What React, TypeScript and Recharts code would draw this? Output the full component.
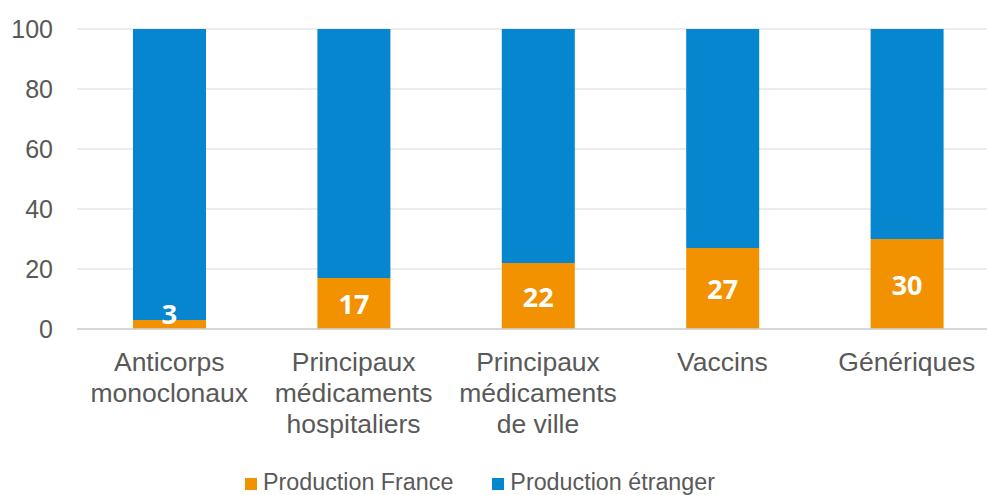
import React from "react";
import {
  BarChart,
  Bar,
  XAxis,
  YAxis,
  CartesianGrid,
  Legend,
  LabelList,
} from "recharts";

const categories = [
  "Anticorps\nmonoclonaux",
  "Principaux\nmédicaments\nhospitaliers",
  "Principaux\nmédicaments\nde ville",
  "Vaccins",
  "Génériques",
];
const franceValues = [3, 17, 22, 27, 30];
const foreignValues = [97, 83, 78, 73, 70];
const yTicks = [0, 20, 40, 60, 80, 100];

const ORANGE = "#F39200";
const BLUE = "#0586CE";
const TEXT = "#595959";
const FONT = "'Liberation Sans', Arial, sans-serif";

const data = categories.map((name, i) => ({
  name,
  france: franceValues[i],
  foreign: foreignValues[i],
}));

const CategoryTick = (props: any) => {
  const { x, y, payload } = props;
  const lines = String(payload.value).split("\n");
  return (
    <text
      textAnchor="middle"
      fill={TEXT}
      fontSize={26.5}
      fontFamily={FONT}
    >
      {lines.map((line: string, i: number) => (
        <tspan key={i} x={x} y={y + 42 + i * 31}>
          {line}
        </tspan>
      ))}
    </text>
  );
};

const CenterLabel = (props: any) => {
  const { x, y, width, height, value } = props;
  const bottom = y + height;
  const cy = Math.min(y + height / 2, bottom - 16);
  return (
    <text
      x={x + width / 2}
      y={cy}
      textAnchor="middle"
      dominantBaseline="central"
      fill="#ffffff"
      fontSize={27}
      fontWeight={700}
      fontFamily="'Open Sans', sans-serif"
    >
      {value}
    </text>
  );
};

const renderLegend = () => {
  const items = [
    { label: "Production France", color: ORANGE },
    { label: "Production étranger", color: BLUE },
  ];
  return (
    <div
      style={{
        display: "flex",
        alignItems: "center",
        height: 30,
        lineHeight: "30px",
        fontFamily: FONT,
        fontSize: 23.3,
        color: TEXT,
        whiteSpace: "nowrap",
      }}
    >
      {items.map((item, i) => (
        <div
          key={item.label}
          style={{
            display: "flex",
            alignItems: "center",
            marginRight: i === 0 ? 39 : 0,
          }}
        >
          <span
            style={{
              display: "inline-block",
              width: 12,
              height: 12,
              background: item.color,
              marginRight: 6,
              marginTop: 4,
            }}
          />
          <span>{item.label}</span>
        </div>
      ))}
    </div>
  );
};

export default function App() {
  return (
    <div
      style={{
        position: "fixed",
        left: 0,
        top: 0,
        width: 987,
        height: 495,
        overflow: "hidden",
        background: "#ffffff",
      }}
    >
      <BarChart
        width={1000}
        height={497}
        data={data}
        margin={{ top: 29, right: 1, bottom: 0, left: 0 }}
      >
        <CartesianGrid vertical={false} stroke="#d9d9d9" />
        <XAxis
          dataKey="name"
          height={138}
          tickLine={false}
          tickSize={0}
          tickMargin={0}
          axisLine={{ stroke: "#d0d0d0", strokeWidth: 1.5 }}
          tick={<CategoryTick />}
          interval={0}
        />
        <YAxis
          width={77}
          domain={[0, 100]}
          ticks={yTicks}
          axisLine={false}
          tickLine={false}
          tickSize={0}
          tickMargin={24}
          tick={{ fill: TEXT, fontSize: 25, fontFamily: FONT }}
        />
        <Legend
          verticalAlign="bottom"
          content={renderLegend}
          wrapperStyle={{ left: 245, width: "auto", height: 30 }}
        />
        <Bar
          dataKey="france"
          name="Production France"
          stackId="a"
          fill={ORANGE}
          barSize={73}
          isAnimationActive={false}
        >
          <LabelList dataKey="france" content={<CenterLabel />} />
        </Bar>
        <Bar
          dataKey="foreign"
          name="Production étranger"
          stackId="a"
          fill={BLUE}
          barSize={73}
          isAnimationActive={false}
        />
      </BarChart>
    </div>
  );
}
